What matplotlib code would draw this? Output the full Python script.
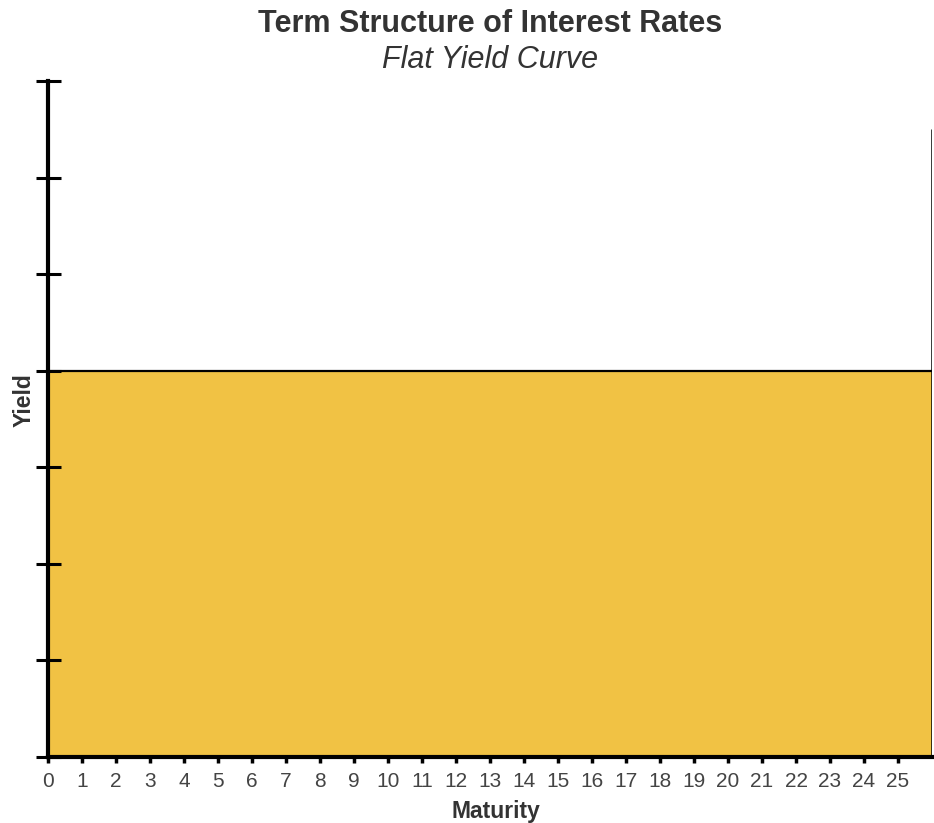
import matplotlib.pyplot as plt

plt.rcParams['font.family'] = ['Liberation Sans', 'DejaVu Sans']

# data
maturity = [0, 26]
yield_level = [4, 4]
maturity_ticks = list(range(0, 26))
right_edge_top = 6.5
y_ticks = list(range(0, 8))

fig = plt.figure(figsize=(9.34, 8.23), dpi=100)
ax = fig.add_axes([48/934, 1-757/823, (932-48)/934, (757-81)/823])

ax.fill_between(maturity, 0, yield_level, color='#F1C244', linewidth=0, zorder=1)
ax.plot(maturity, yield_level, color='black', linewidth=1.6, zorder=2)
ax.vlines(maturity[-1], 0, right_edge_top, color='black', linewidth=1.8, zorder=3)

ax.set_xlim(maturity[0], maturity[-1])
ax.set_ylim(0, 7)
ax.set_xticks(maturity_ticks)
ax.set_xticklabels([str(m) for m in maturity_ticks])
ax.set_yticks(y_ticks)
ax.set_yticklabels([])

for s in ['top', 'right']:
    ax.spines[s].set_visible(False)
ax.spines['left'].set_linewidth(3)
ax.spines['bottom'].set_linewidth(3)

ax.tick_params(axis='y', direction='inout', length=18, width=2.2)
ax.tick_params(axis='x', direction='out', length=4, width=2.5, labelsize=15,
               labelcolor='#444444', pad=7)

ax.set_xlabel('Maturity', fontsize=16.5, fontweight='bold', color='#333333')
ax.set_ylabel('Yield', fontsize=16.5, fontweight='bold', color='#333333')
ax.xaxis.set_label_coords(0.507, -0.064)
ax.yaxis.set_label_coords(-0.0136, 0.528)

cx = (48 + 932) / 2 / 934
fig.text(cx, 1-32/823, 'Term Structure of Interest Rates', ha='center', va='baseline',
         fontsize=22, fontweight='bold', color='#333333')
fig.text(cx, 1-68/823, 'Flat Yield Curve', ha='center', va='baseline',
         fontsize=22, fontstyle='italic', color='#333333')

fig.savefig('out.png', dpi=100)
